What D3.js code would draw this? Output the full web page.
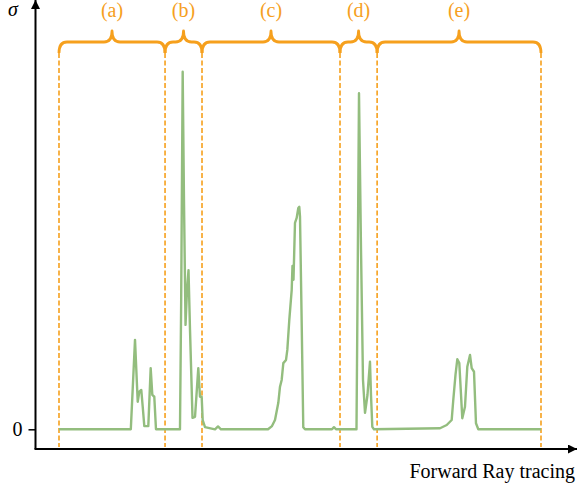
<!DOCTYPE html>
<html>
<head>
<meta charset="utf-8">
<script src="https://cdn.jsdelivr.net/npm/d3@7"></script>
<style>
  html, body { margin: 0; padding: 0; background: #fff; }
  svg { display: block; }
  text { font-family: "Liberation Serif", "Times New Roman", "DejaVu Serif", serif; }
</style>
</head>
<body>
<svg id="chart_svg" width="577" height="486"></svg>
<script>
// ray position (0-100) and sigma (peak = 1)
const ray_pos = [0, 14.9, 15.77, 16.33, 16.66, 17.07, 17.37, 17.7, 18.53, 19.02, 19.36, 19.77, 20.12,
  25.1, 25.35, 25.66, 25.93, 26.25, 26.56, 26.87, 27.18, 27.7, 28.22, 28.9, 29.25, 29.6, 29.81, 30.29,
  32.37, 32.99, 33.6, 43.36, 44.19, 44.81, 45.5, 45.85, 46.2, 46.54, 47.1, 47.37, 47.78, 48.28, 48.44,
  48.65, 48.96, 49.31, 49.65, 49.85, 50.0, 50.35, 50.68, 51.04, 56.64, 57.05, 57.47, 61.72, 61.93,
  62.24, 62.66, 63.07, 63.49, 64.0, 64.52, 64.73, 65.0, 65.35, 79.05, 80.44, 81.47, 81.8, 82.26,
  82.64, 83.05, 83.67, 84.23, 84.71, 85.27, 85.62, 86.1, 86.51, 86.99, 100];
const sigma = [0, 0, 0.25, 0.077, 0.105, 0.11, 0.063, 0.009, 0.009, 0.171, 0.096, 0.091, 0,
  0, 0.362, 1.0, 0.641, 0.292, 0.39, 0.445, 0.278, 0.032, 0.035, 0.171, 0.091, 0.091, 0.026, 0.006,
  0, 0.008, 0, 0, 0.009, 0.026, 0.074, 0.119, 0.138, 0.185, 0.194, 0.222, 0.306, 0.39, 0.457,
  0.418, 0.577, 0.591, 0.619, 0.622, 0.595, 0.297, 0.006, 0, 0, 0.006, 0, 0, 0.362,
  0.94, 0.501, 0.138, 0.046, 0.096, 0.189, 0.096, 0.007, 0, 0.003, 0.012, 0.026, 0.082, 0.152,
  0.196, 0.185, 0.031, 0.063, 0.175, 0.208, 0.171, 0.161, 0.017, 0, 0];

// region boundaries along the ray and their labels
const region_bounds = [0, 22, 29.67, 58.3, 66, 100];
const region_labels = ['(a)', '(b)', '(c)', '(d)', '(e)'];

const y_tick_values = [0];
const y_title = 'σ';
const x_title = 'Forward Ray tracing';

const orange = '#f6a01d';
const green = '#93bd7e';
const serif = '"Liberation Serif", "Times New Roman", "DejaVu Serif", serif';

let svg = d3.select('#chart_svg');

/**
 * Scales
 */
const xScale = d3.scaleLinear().domain([0, 100]).range([59, 541]);
const yScale = d3.scaleLinear().domain([0, 1]).range([429.3, 71.7]);

const axis_x = 35.5;
const axis_y = 449;

/**
 * Arrow heads for the axes
 */
let defs = svg.append('defs');
defs.append('marker')
  .attr('id', 'arrow')
  .attr('viewBox', '0 0 10 10')
  .attr('refX', 10)
  .attr('refY', 5)
  .attr('markerWidth', 9)
  .attr('markerHeight', 9)
  .attr('markerUnits', 'userSpaceOnUse')
  .attr('orient', 'auto')
  .append('path')
  .attr('d', 'M0,0 L10,5 L0,10 Z')
  .attr('fill', '#000');

/**
 * Dashed region separators
 */
svg.append('g')
  .selectAll('line')
  .data(region_bounds)
  .enter()
  .append('line')
  .attr('x1', (d) => xScale(d))
  .attr('x2', (d) => xScale(d))
  .attr('y1', 53)
  .attr('y2', axis_y - 2)
  .attr('stroke', orange)
  .attr('stroke-width', 1.6)
  .attr('stroke-dasharray', '5,2.5');

/**
 * Curly braces with labels
 */
const brace_y = 42;
const r = 8;
function brace_path(a, b) {
  let x0 = xScale(a);
  let x1 = xScale(b);
  let xm = (x0 + x1) / 2;
  return `M${x0},53 Q${x0},${brace_y} ${x0 + r},${brace_y} L${xm - r},${brace_y} ` +
    `Q${xm},${brace_y} ${xm},${brace_y - 11} Q${xm},${brace_y} ${xm + r},${brace_y} ` +
    `L${x1 - r},${brace_y} Q${x1},${brace_y} ${x1},53`;
}

let regions = region_labels.map((label, i) => ({
  label: label,
  start: region_bounds[i],
  end: region_bounds[i + 1],
}));

let g_braces = svg.append('g');
g_braces.selectAll('path')
  .data(regions)
  .enter()
  .append('path')
  .attr('d', (d) => brace_path(d.start, d.end))
  .attr('fill', 'none')
  .attr('stroke', orange)
  .attr('stroke-width', 2.8)
  .attr('stroke-linejoin', 'round');

g_braces.selectAll('text')
  .data(regions)
  .enter()
  .append('text')
  .attr('x', (d) => (xScale(d.start) + xScale(d.end)) / 2)
  .attr('y', 17)
  .attr('text-anchor', 'middle')
  .attr('font-family', serif)
  .attr('font-size', 20)
  .attr('fill', orange)
  .text((d) => d.label);

/**
 * Signal line
 */
let line = d3.line()
  .x((d, i) => xScale(ray_pos[i]))
  .y((d) => yScale(d));

svg.append('path')
  .datum(sigma)
  .attr('d', line)
  .attr('fill', 'none')
  .attr('stroke', green)
  .attr('stroke-width', 2.4)
  .attr('stroke-linejoin', 'round');

/**
 * Axes
 */
svg.append('line')
  .attr('x1', axis_x).attr('y1', axis_y)
  .attr('x2', axis_x).attr('y2', 0)
  .attr('stroke', '#000').attr('stroke-width', 2)
  .attr('marker-end', 'url(#arrow)');

svg.append('line')
  .attr('x1', axis_x - 1).attr('y1', axis_y)
  .attr('x2', 577).attr('y2', axis_y)
  .attr('stroke', '#000').attr('stroke-width', 2)
  .attr('marker-end', 'url(#arrow)');

let y_axis = d3.axisLeft(yScale)
  .tickValues(y_tick_values)
  .tickSize(7)
  .tickPadding(6)
  .tickFormat(d3.format('d'));

let g_y_axis = svg.append('g')
  .attr('transform', `translate(${axis_x},0)`)
  .call(y_axis);
g_y_axis.attr('font-family', serif).attr('font-size', 20);
g_y_axis.select('.domain').remove();
g_y_axis.selectAll('line').attr('stroke', '#000').attr('stroke-width', 1.5);
g_y_axis.selectAll('text').attr('fill', '#000');

/**
 * Axis titles
 */
svg.append('text')
  .attr('x', 8)
  .attr('y', 16)
  .attr('font-family', serif)
  .attr('font-size', 20)
  .attr('font-style', 'italic')
  .text(y_title);

svg.append('text')
  .attr('x', 575)
  .attr('y', 478)
  .attr('text-anchor', 'end')
  .attr('font-family', serif)
  .attr('font-size', 20)
  .text(x_title);
</script>
</body>
</html>
